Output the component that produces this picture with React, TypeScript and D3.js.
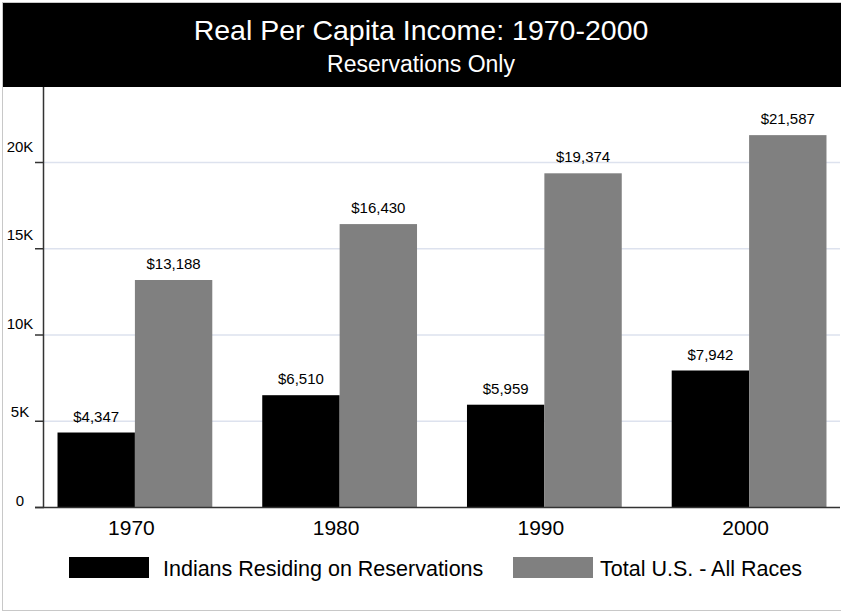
import React from "react";
import * as d3 from "d3";

const years = ["1970", "1980", "1990", "2000"];
const indians = [4347, 6510, 5959, 7942];
const totalUS = [13188, 16430, 19374, 21587];
const seriesNames = ["Indians Residing on Reservations", "Total U.S. - All Races"];
const seriesColors = ["#000000", "#808080"];
const yTicks = [0, 5000, 10000, 15000, 20000];
const yTickLabels = ["0", "5K", "10K", "15K", "20K"];

const W = 841;
const H = 612;
const font = "Liberation Sans, Arial, sans-serif";

// legend layout: swatch x, text x
const legendSwatchX = [69, 513];
const legendTextX = [163, 600];

export default function App() {
  const x0 = d3
    .scaleBand<string>()
    .domain(years)
    .range([44, 840])
    .paddingInner(0.244)
    .paddingOuter(0.066);
  const x1 = d3
    .scaleBand<number>()
    .domain([0, 1])
    .range([0, x0.bandwidth()]);
  const y = d3.scaleLinear().domain([0, 24377]).range([507.5, 87]);
  const fmt = d3.format(",");

  const data = [indians, totalUS];

  return (
    <svg
      width={W}
      height={H}
      style={{ position: "absolute", left: 0, top: 0, display: "block" }}
    >
      <rect x={0} y={0} width={W} height={H} fill="#fff" />
      <rect x={2.5} y={2.5} width={W - 2} height={H - 4} fill="none" stroke="#c8c8c8" />
      <rect x={3} y={3} width={W - 3} height={84} fill="#000" />
      <text x={421} y={40} textAnchor="middle" fill="#fff" fontFamily={font} fontSize={28.5}>
        Real Per Capita Income: 1970-2000
      </text>
      <text x={421} y={72} textAnchor="middle" fill="#fff" fontFamily={font} fontSize={23}>
        Reservations Only
      </text>

      {/* grid */}
      {yTicks.slice(1).map((t) => (
        <line key={t} x1={44} x2={840} y1={y(t)} y2={y(t)} stroke="#dde2ee" strokeWidth={1.5} />
      ))}

      {/* bars */}
      {years.map((yr, i) => (
        <g key={yr} transform={`translate(${x0(yr)},0)`}>
          {data.map((s, j) => (
            <g key={j}>
              <rect
                x={x1(j)}
                y={y(s[i])}
                width={x1.bandwidth()}
                height={y(0) - y(s[i])}
                fill={seriesColors[j]}
              />
              <text
                x={(x1(j) ?? 0) + x1.bandwidth() / 2}
                y={y(s[i]) - 11}
                textAnchor="middle"
                fontFamily={font}
                fontSize={15}
                fill="#000"
              >
                ${fmt(s[i])}
              </text>
            </g>
          ))}
          <text
            x={x0.bandwidth() / 2 - 3.5}
            y={535}
            textAnchor="middle"
            fontFamily={font}
            fontSize={21}
            fill="#000"
          >
            {yr}
          </text>
        </g>
      ))}

      {/* axes */}
      <line x1={43.5} x2={43.5} y1={87} y2={508} stroke="#333" strokeWidth={1.5} />
      <line x1={35} x2={840} y1={507.5} y2={507.5} stroke="#333" strokeWidth={1.5} />
      {yTicks.map((t, i) => (
        <g key={t}>
          <line x1={35} x2={44} y1={y(t)} y2={y(t)} stroke="#333" strokeWidth={1.5} />
          <text
            x={20}
            y={y(t) - 2 - (t / 20000) * 9}
            textAnchor="middle"
            fontFamily={font}
            fontSize={15}
            fill="#000"
          >
            {yTickLabels[i]}
          </text>
        </g>
      ))}

      {/* legend */}
      {seriesNames.map((n, j) => (
        <g key={n}>
          <rect x={legendSwatchX[j]} y={557} width={80} height={21} fill={seriesColors[j]} />
          <text x={legendTextX[j]} y={576} fontFamily={font} fontSize={21.5} fill="#000">
            {n}
          </text>
        </g>
      ))}
    </svg>
  );
}
